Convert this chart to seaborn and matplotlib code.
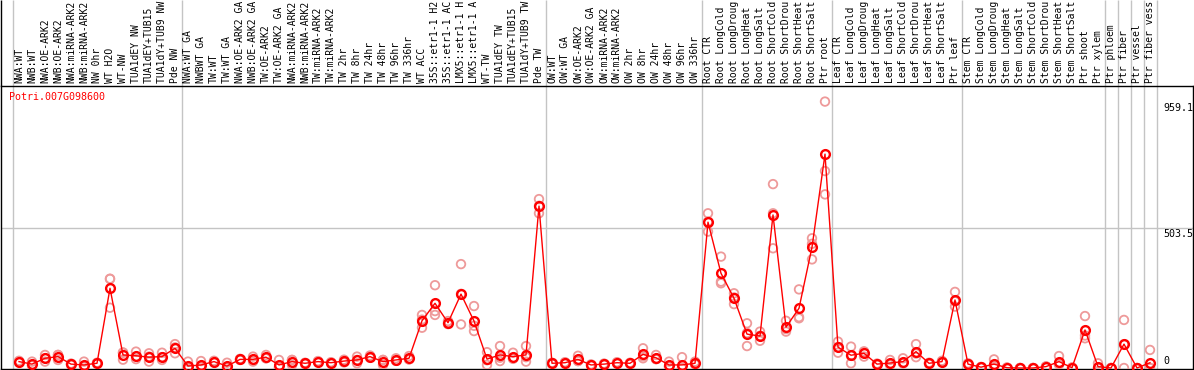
import seaborn as sns
import matplotlib.pyplot as plt
import numpy as np
import pandas as pd

plt.switch_backend('agg')

gene = 'Potri.007G098600'

samples = [
    # NW
    'NWA:WT', 'NWB:WT', 'NWA:OE-ARK2', 'NWB:OE-ARK2', 'NWA:miRNA-ARK2', 'NWB:miRNA-ARK2',
    'NW 0hr', 'WT H2O', 'WT-NW', 'TUA1dEY NW', 'TUA1dEY+TUB15', 'TUA1dY+TUB9 NW', 'Pde NW',
    # TW
    'NWA:WT GA', 'NWBWT GA', 'TW:WT', 'TW:WT GA', 'NWA:OE-ARK2 GA', 'NWB:OE-ARK2 GA',
    'TW:OE-ARK2', 'TW:OE-ARK2 GA', 'NWA:miRNA-ARK2', 'NWB:miRNA-ARK2', 'TW:miRNA-ARK2',
    'TW:miRNA-ARK2', 'TW 2hr', 'TW 8hr', 'TW 24hr', 'TW 48hr', 'TW 96hr', 'TW 336hr',
    'WT ACC', '35S::etr1-1 H2O', '35S::etr1-1 ACC', 'LMX5::etr1-1 H2O', 'LMX5::etr1-1 ACC',
    'WT-TW', 'TUA1dEY TW', 'TUA1dEY+TUB15', 'TUA1dY+TUB9 TW', 'Pde TW',
    # OW
    'OW:WT', 'OW:WT GA', 'OW:OE-ARK2', 'OW:OE-ARK2 GA', 'OW:miRNA-ARK2', 'OW:miRNA-ARK2',
    'OW 2hr', 'OW 8hr', 'OW 24hr', 'OW 48hr', 'OW 96hr', 'OW 336hr',
    # root
    'Root CTR', 'Root LongCold', 'Root LongDrought', 'Root LongHeat', 'Root LongSalt',
    'Root ShortCold', 'Root ShortDrought', 'Root ShortHeat', 'Root ShortSalt', 'Ptr root',
    # leaf
    'Leaf CTR', 'Leaf LongCold', 'Leaf LongDrought', 'Leaf LongHeat', 'Leaf LongSalt',
    'Leaf ShortCold', 'Leaf ShortDrought', 'Leaf ShortHeat', 'Leaf ShortSalt', 'Ptr leaf',
    # stem
    'Stem CTR', 'Stem LongCold', 'Stem LongDrought', 'Stem LongHeat', 'Stem LongSalt',
    'Stem ShortCold', 'Stem ShortDrought', 'Stem ShortHeat', 'Stem ShortSalt', 'Ptr shoot',
    'Ptr xylem',
    'Ptr phloem', 'Ptr fiber', 'Ptr vessel', 'Ptr fiber vessel',
]

# group sizes (separators drawn between groups)
group_sizes = [13, 28, 12, 10, 10, 11, 1, 1, 1, 1]

means = [
    23, 14, 35, 41, 14, 11, 17, 287, 47, 44, 39, 41, 71,
    7, 11, 23, 7, 31, 31, 39, 11, 23, 17, 23, 19, 25, 29, 41, 23, 29, 35,
    170, 233, 163, 266, 169, 32, 47, 41, 47, 583,
    17, 19, 31, 11, 14, 19, 17, 49, 37, 11, 11, 17,
    525, 341, 251, 122, 115, 551, 147, 215, 435, 770,
    75, 46, 53, 14, 18, 23, 59, 17, 23, 245,
    14, 3, 14, 1, 0, 0, 5, 23, 1, 137, 5,
    0, 86, 0, 19,
]

reps = [
    [23, 20, 26], [23, 11, 9], [47, 23, 35], [47, 29, 47], [14, 12, 16], [23, 5, 5],
    [17, 15, 19], [321, 321, 217], [55, 30, 56], [59, 41, 32], [53, 23, 41], [55, 29, 39],
    [86, 53, 74],
    [23, 0, 0], [25, 4, 4], [23, 20, 26], [19, 1, 1], [31, 29, 33], [41, 23, 29],
    [47, 35, 35], [29, 2, 2], [29, 11, 29], [17, 15, 19], [23, 21, 25], [19, 17, 21],
    [25, 20, 30], [41, 17, 29], [41, 37, 45], [29, 11, 29], [35, 26, 26], [43, 31, 31],
    [191, 145, 174], [298, 205, 191], [158, 169, 162], [374, 157, 267], [223, 152, 133],
    [57, 11, 28], [79, 25, 37], [55, 35, 33], [79, 23, 39], [608, 557, 584],
    [17, 15, 19], [19, 17, 21], [44, 25, 25], [11, 9, 13], [14, 12, 16], [19, 17, 21],
    [17, 15, 19], [71, 35, 42], [47, 32, 32], [23, 5, 5], [39, 0, 0], [23, 14, 14],
    [557, 491, 527], [401, 311, 305], [269, 230, 254], [161, 79, 126], [131, 98, 116],
    [662, 557, 431], [170, 131, 140], [283, 179, 183], [467, 391, 447], [959.1, 709, 625],
    [95, 55, 75], [77, 17, 44], [41, 60, 58], [14, 12, 16], [29, 12, 13], [35, 17, 17],
    [86, 39, 52], [17, 15, 19], [23, 20, 26], [274, 221, 240],
    [17, 12, 13], [3, 2, 4], [31, 6, 5], [1, 0, 2], [0, 0, 0], [0, 0, 0], [5, 4, 6],
    [43, 13, 13], [1, 0, 2], [187, 107, 117], [17, 0, 0],
    [0, 0, 0], [173, 85, 0], [0, 0, 0], [65, 0, 0],
]

ytick_vals = [959.1, 503.5, 0]

idx = np.arange(len(samples))
mean_df = pd.DataFrame({'pos': idx, 'value': means})
rep_df = pd.DataFrame({
    'pos': np.repeat(idx, [len(r) for r in reps]),
    'value': [v for r in reps for v in r],
})

mono = 'DejaVu Sans Mono'
fs = 7.0
W, H = 1194, 370
fig = plt.figure(figsize=(W / 100, H / 100), dpi=100)
ax_bot, ax_top = 369, 86
ax = fig.add_axes([1 / W, (H - ax_bot) / H, 1192 / W, (ax_bot - ax_top) / H])
ax_h = ax_bot - ax_top

sns.scatterplot(data=rep_df, x='pos', y='value', ax=ax, marker='o', s=38,
                facecolors='none', edgecolor='#ee9a9a', linewidth=1.3, zorder=3)
sns.lineplot(data=mean_df, x='pos', y='value', ax=ax, color='#ff0000', lw=1,
             marker='o', markersize=6.3, markerfacecolor='none',
             markeredgecolor='#ff0000', markeredgewidth=1.7, zorder=4)

ax.set_xlim((1 - 19) / 13, (1193 - 19) / 13)
ax.set_ylim(-1 * 3.6, (368 - 86) * 3.6)
ax.set_xticks([])
ax.set_yticks([])
ax.set_xlabel('')
ax.set_ylabel('')
for s in ax.spines.values():
    s.set_color('black')
    s.set_linewidth(1)

# grid line at the middle tick
ax.axhline(503.5, color='#c4c4c4', lw=1, zorder=1)

# group separators, running up through the label area
bounds = [-0.5] + list(np.cumsum(group_sizes) - 0.5)
ax.vlines(bounds, 0, 1 + ax_top / ax_h, transform=ax.get_xaxis_transform(),
          color='#c4c4c4', lw=1, clip_on=False, zorder=1)
ax.vlines([ax.get_xlim()[0]], 1, 1 + ax_top / ax_h, transform=ax.get_xaxis_transform(),
          color='black', lw=1, clip_on=False)

# sample labels above the plot (the header only has room for 14 characters)
for i, name in enumerate(samples):
    ax.text(i, 1 + 3 / ax_h, name[:14], transform=ax.get_xaxis_transform(), rotation=90,
            ha='center', va='bottom', family=mono, fontsize=fs, clip_on=False)

ax.text(8 / 1192, (ax_bot - 97) / ax_h, gene, transform=ax.transAxes, color='#ff0000',
        family=mono, fontsize=7.2, ha='left', va='center')

for v in ytick_vals:
    va = 'bottom' if v == 0 else 'top'
    off = 2 * 3.6 if v == 0 else -1 * 3.6
    ax.text((1163 - 1) / 1192, v + off, f'{v:g}', transform=ax.get_yaxis_transform(),
            family=mono, fontsize=7.2, ha='left', va=va)

fig.savefig('out.png', dpi=100)
